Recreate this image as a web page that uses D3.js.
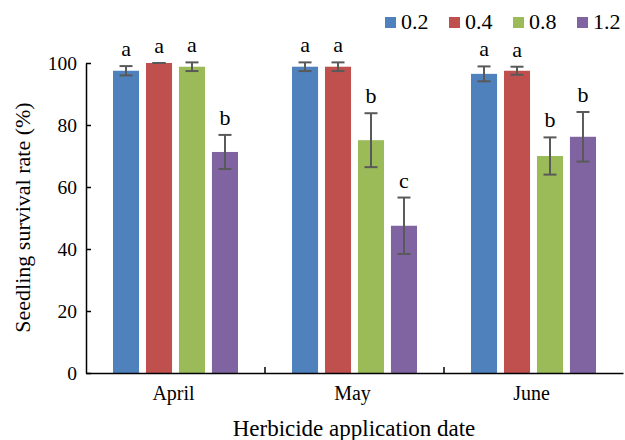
<!DOCTYPE html>
<html>
<head>
<meta charset="utf-8">
<script src="https://cdn.jsdelivr.net/npm/d3@7"></script>
<style>
  html, body { margin: 0; padding: 0; background: #fff; }
  svg { display: block; font-family: "Liberation Serif", "Times New Roman", serif; }
</style>
</head>
<body>
<svg id="chart" width="625" height="440"></svg>
<script>
// ── Data ──────────────────────────────────────────────────────────────────────
const months  = ['April', 'May', 'June'];
const doses   = ['0.2', '0.4', '0.8', '1.2'];
const colors  = ['#4F81BD', '#C0504D', '#9BBB59', '#8064A2'];

// survival (%) per month, one entry per dose
const means   = [[97.5, 100, 98.8, 71.3], [98.8, 98.8, 75.1, 47.5], [96.5, 97.5, 70.0, 76.2]];
const errors  = [[1.5, 0, 1.4, 5.5], [1.4, 1.4, 8.7, 9.1], [2.4, 1.3, 6.0, 8.0]];
const letters = [['a', 'a', 'a', 'b'], ['a', 'a', 'b', 'c'], ['a', 'a', 'b', 'b']];
const yTicks  = [0, 20, 40, 60, 80, 100];

// ── Layout ────────────────────────────────────────────────────────────────────
const SERIF = '"Liberation Serif", "Times New Roman", serif';
const svg = d3.select('#chart');
const padL = 86, padR = 623, padT = 63, padB = 373;

const x0 = d3.scaleBand().domain(months).range([padL, padR]).padding(0);
const x1 = d3.scaleBand().domain(doses).range([27, 152]).paddingInner(0.21).paddingOuter(0);
const y  = d3.scaleLinear().domain([0, 100]).range([padB, padT]);

const rows = months.flatMap((m, i) => doses.map((d, j) => ({
  month: m, dose: d, color: colors[j], v: means[i][j], e: errors[i][j], label: letters[i][j]
})));

// bars
svg.append('g').selectAll('rect')
  .data(rows).enter().append('rect')
  .attr('x', d => x0(d.month) + x1(d.dose))
  .attr('y', d => y(d.v))
  .attr('width', x1.bandwidth())
  .attr('height', d => y(0) - y(d.v))
  .attr('fill', d => d.color);

// error bars
const eb = svg.append('g').attr('stroke', '#595959').attr('stroke-width', 2).attr('fill', 'none');
rows.forEach(d => {
  const cx = x0(d.month) + x1(d.dose) + x1.bandwidth() / 2;
  const y1 = y(d.v + d.e), y2 = y(d.v - d.e);
  if (d.e > 0) eb.append('line').attr('x1', cx).attr('x2', cx).attr('y1', y1).attr('y2', y2);
  [y1, y2].forEach(yy => eb.append('line')
    .attr('x1', cx - 6.5).attr('x2', cx + 6.5).attr('y1', yy).attr('y2', yy));
});

// significance letters
svg.append('g').selectAll('text')
  .data(rows).enter().append('text')
  .attr('x', d => x0(d.month) + x1(d.dose) + x1.bandwidth() / 2)
  .attr('y', d => y(d.v + d.e) - 10)
  .attr('text-anchor', 'middle')
  .attr('font-family', SERIF)
  .attr('font-size', 22)
  .attr('fill', '#000')
  .text(d => d.label);

// y axis
const yAxis = svg.append('g')
  .attr('transform', `translate(${padL},0)`)
  .call(d3.axisLeft(y).tickValues(yTicks).tickSizeInner(-5).tickSizeOuter(0).tickPadding(9))
  .attr('font-family', SERIF);
yAxis.select('.domain').attr('stroke', '#000').attr('stroke-width', 1.5);
yAxis.selectAll('.tick line').attr('stroke', '#000').attr('stroke-width', 1.5);
yAxis.selectAll('.tick text').attr('font-size', 19.5).attr('fill', '#000');

// x axis
const xAxis = svg.append('g')
  .attr('transform', `translate(0,${padB})`)
  .call(d3.axisBottom(x0).tickSize(0).tickPadding(13))
  .attr('font-family', SERIF);
xAxis.select('.domain').attr('stroke', '#000').attr('stroke-width', 1.5);
xAxis.selectAll('.tick text').attr('font-size', 20).attr('fill', '#000').attr('dx', -2);
// boundary ticks between months
svg.append('g').selectAll('line')
  .data(months.slice(1)).enter().append('line')
  .attr('x1', d => x0(d)).attr('x2', d => x0(d))
  .attr('y1', padB).attr('y2', padB - 6)
  .attr('stroke', '#000').attr('stroke-width', 1.5);

// axis titles
svg.append('text')
  .attr('x', 354).attr('y', 436)
  .attr('text-anchor', 'middle').attr('font-family', SERIF).attr('font-size', 23).attr('fill', '#000')
  .text('Herbicide application date');
svg.append('text')
  .attr('transform', 'translate(30,217.5) rotate(-90)')
  .attr('text-anchor', 'middle').attr('font-family', SERIF).attr('font-size', 22).attr('fill', '#000')
  .text('Seedling survival rate (%)');

// legend
const leg = svg.append('g').selectAll('g')
  .data(doses).enter().append('g')
  .attr('transform', (d, i) => `translate(${385 + i * 64},17)`);
leg.append('rect').attr('width', 11).attr('height', 11).attr('fill', (d, i) => colors[i]);
leg.append('text').attr('x', 16).attr('y', 11.5)
  .attr('font-family', SERIF).attr('font-size', 22).attr('fill', '#000').text(d => d);
</script>
</body>
</html>
